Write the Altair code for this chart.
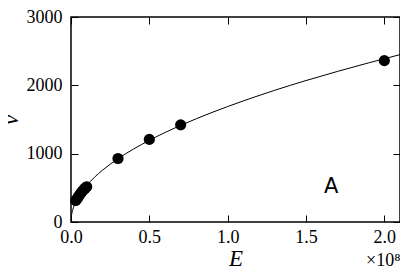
import altair as alt
import pandas as pd

# Measured points (E in units of 1e8)
E_pts = [0.03, 0.04, 0.05, 0.06, 0.07, 0.08, 0.09, 0.10, 0.30, 0.50, 0.70, 2.00]
v_pts = [315, 345, 380, 415, 445, 470, 495, 515, 929, 1209, 1422, 2361]

# Fitted curve
E_fit = [0, 0.002, 0.005, 0.01, 0.02, 0.04, 0.07, 0.1, 0.15, 0.2, 0.3, 0.4,
         0.5, 0.7, 0.9, 1.1, 1.3, 1.5, 1.7, 1.9, 2.1]
v_fit = [0, 76, 120, 169, 239, 338, 447, 534, 655, 756, 926, 1069,
         1195, 1414, 1603, 1772, 1927, 2070, 2203, 2329, 2449]

x_ticks = [0.0, 0.5, 1.0, 1.5, 2.0]
y_ticks = [0, 1000, 2000, 3000]

pts = pd.DataFrame({"E": E_pts, "v": v_pts})
fit = pd.DataFrame({"E": E_fit, "v": v_fit})
label = pd.DataFrame({"E": [1.66], "v": [510], "t": ["A"]})

SERIF = "Liberation Serif"
TICK = 7

xscale = alt.Scale(domain=[0, 2.1], nice=False, zero=False)
yscale = alt.Scale(domain=[0, 3000], nice=False)

common_axis = dict(grid=False, domain=False, ticks=True, tickSize=TICK,
                   offset=-TICK, tickColor="black", tickWidth=1, labelFlush=False,
                   labelFont=SERIF, labelFontSize=18, labelColor="black",
                   titleFont=SERIF, titleFontSize=23, titleFontStyle="italic",
                   titleFontWeight="normal", titleColor="black")

x_main = alt.X("E:Q", scale=xscale,
               axis=alt.Axis(values=x_ticks, format=".1f", title="E",
                             labelPadding=6, titlePadding=1, **common_axis))
y_main = alt.Y("v:Q", scale=yscale,
               axis=alt.Axis(values=y_ticks, format="d", title="v",
                             labelPadding=9, titlePadding=4, **common_axis))

mirror = dict(grid=False, domain=False, ticks=True, tickSize=TICK,
              offset=-TICK, tickColor="black", tickWidth=1, labels=False, title=None)
x_top = alt.X("E:Q", scale=xscale, axis=alt.Axis(orient="top", values=x_ticks, **mirror))
y_right = alt.Y("v:Q", scale=yscale, axis=alt.Axis(orient="right", values=y_ticks, **mirror))

curve = alt.Chart(fit).mark_line(color="black", strokeWidth=1,
                                  interpolate="monotone", clip=True).encode(x=x_main, y=y_main)
dots = alt.Chart(pts).mark_circle(color="black", size=125, opacity=1).encode(x=x_top, y=y_right)
txt = alt.Chart(label).mark_text(font="DejaVu Sans", fontSize=21, baseline="middle",
                                 align="center", color="black").encode(
    x=alt.X("E:Q", scale=xscale, axis=None),
    y=alt.Y("v:Q", scale=yscale, axis=None), text="t:N")

chart = alt.layer(curve, dots, txt).resolve_scale(x="shared", y="shared").resolve_axis(
    x="independent", y="independent"
).properties(
    width=329, height=205,
    autosize=alt.AutoSizeParams(type="none"),
    padding={"left": 63, "top": 9, "right": 0, "bottom": 47},
    title=alt.TitleParams(text="×10⁸", orient="bottom", anchor="end",
                          font=SERIF, fontSize=18, fontWeight="normal",
                          color="black", offset=-18),
).configure_view(stroke="black", strokeWidth=1.5)

chart.save("out.html", embed_options={"renderer": "svg", "actions": False})
